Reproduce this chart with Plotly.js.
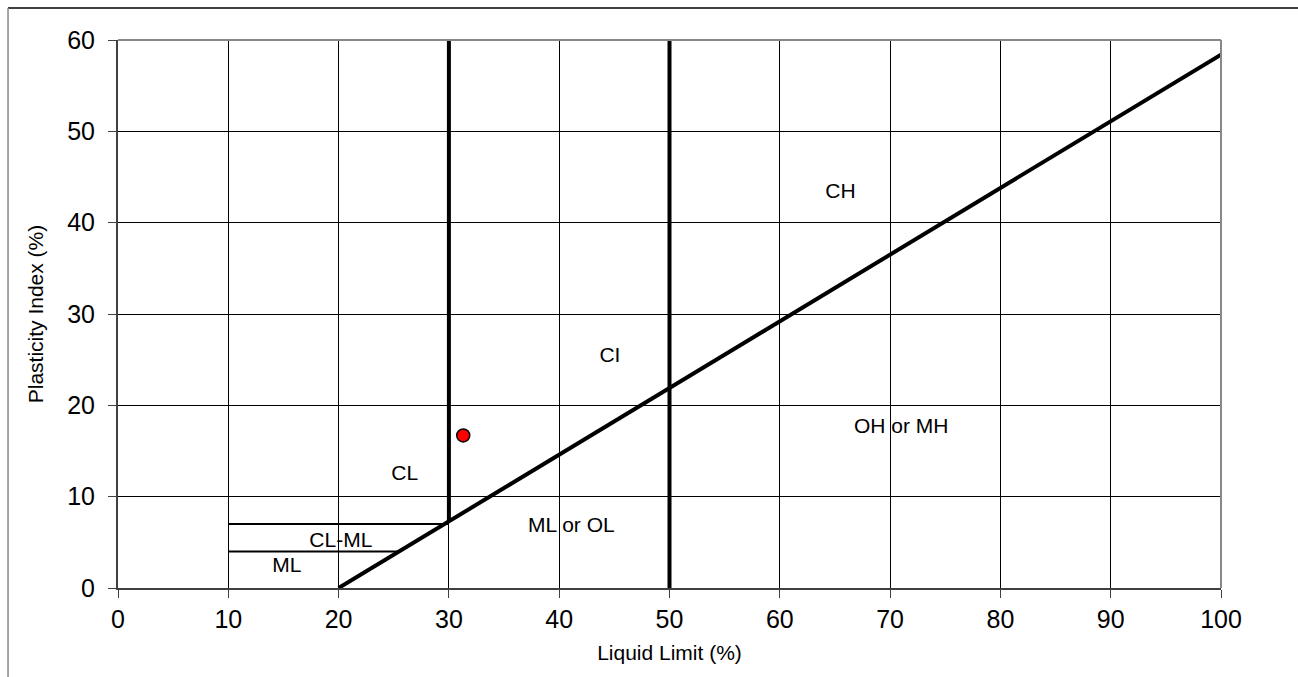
<!DOCTYPE html>
<html>
<head>
<meta charset="utf-8">
<script src="https://cdn.plot.ly/plotly-3.0.1.min.js"></script>
<style>html,body{margin:0;padding:0;background:#fff;}#chart{width:1298px;height:677px;}</style>
</head>
<body>
<div id="chart"></div>
<script>
// A-line: PI = 0.73 (LL - 20)
const aLineLL = [20, 100];
const aLinePI = [0, 58.4];
// Boundary at LL = 30 (from A-line up to top)
const ll30X = [30, 30];
const ll30Y = [7.3, 60];
// Boundary at LL = 50
const ll50X = [50, 50];
const ll50Y = [0, 60];
// CL-ML band limits
const pi7X = [10, 30];
const pi7Y = [7, 7];
const pi4X = [10, 25.5];
const pi4Y = [4, 4];
// Sample point
const sampleLL = [31.3];
const samplePI = [16.7];
// Zone labels
const zoneNames = ["CH", "CI", "OH or MH", "CL", "ML or OL", "CL-ML", "ML"];
const zoneLL = [65.5, 44.6, 71.0, 26.0, 41.1, 20.2, 15.3];
const zonePI = [43.3, 25.3, 17.5, 12.4, 6.7, 5.1, 2.3];
const xTicks = [0, 10, 20, 30, 40, 50, 60, 70, 80, 90, 100];
const yTicks = [0, 10, 20, 30, 40, 50, 60];

const FONT = "Liberation Sans, Arial, sans-serif";
const thick = {color: "#000", width: 4};
const thin = {color: "#000", width: 2};
const traces = [
  {x: pi7X, y: pi7Y, mode: "lines", line: thin, hoverinfo: "skip"},
  {x: pi4X, y: pi4Y, mode: "lines", line: thin, hoverinfo: "skip"},
  {x: ll30X, y: ll30Y, mode: "lines", line: thick, hoverinfo: "skip"},
  {x: ll50X, y: ll50Y, mode: "lines", line: thick, hoverinfo: "skip"},
  {x: aLineLL, y: aLinePI, mode: "lines", line: thick, hoverinfo: "skip"},
  {x: sampleLL, y: samplePI, mode: "markers",
   marker: {color: "#ff0000", size: 13, line: {color: "#000", width: 1.5}}},
  {x: zoneLL, y: zonePI, mode: "text", text: zoneNames,
   textfont: {family: FONT, size: 21, color: "#000"},
   textposition: "middle center", hoverinfo: "skip"}
];

const axisCommon = {
  showgrid: true, gridcolor: "#000", gridwidth: 1,
  zeroline: false, showline: true, linecolor: "#404040", linewidth: 2,
  ticks: "outside", ticklen: 8, tickcolor: "#404040", tickwidth: 1,
  tickfont: {family: FONT, size: 25, color: "#000"},
  fixedrange: true
};

const layout = {
  width: 1298, height: 677,
  margin: {l: 118, r: 77, t: 40, b: 89},
  paper_bgcolor: "#fff", plot_bgcolor: "#fff",
  showlegend: false,
  xaxis: Object.assign({}, axisCommon, {
    range: [0, 100], tickvals: xTicks, ticktext: xTicks.map(String),
    title: {text: "Liquid Limit (%)", standoff: 13,
      font: {family: FONT, size: 21, color: "#000"}}
  }),
  yaxis: Object.assign({}, axisCommon, {
    range: [0, 60], tickvals: yTicks, ticktext: yTicks.map(String),
    ticklabelstandoff: 8,
    title: {text: "Plasticity Index (%)", standoff: 18,
      font: {family: FONT, size: 21, color: "#000"}}
  }),
  shapes: [
    {type: "line", xref: "paper", yref: "paper", x0: 0, x1: 1, y0: 1, y1: 1,
     line: {color: "#888", width: 2}},
    {type: "line", xref: "paper", yref: "paper", x0: 1, x1: 1, y0: 0, y1: 1,
     line: {color: "#888", width: 2}},
    {type: "line", xref: "paper", yref: "paper", x0: -0.0997, x1: 1.1, y0: 1.0584, y1: 1.0584,
     line: {color: "#000", width: 1.5}},
    {type: "line", xref: "paper", yref: "paper", x0: -0.0997, x1: -0.0997, y0: -0.2, y1: 1.0584,
     line: {color: "#888", width: 1.5}}
  ]
};

Plotly.newPlot("chart", traces, layout, {displayModeBar: false, staticPlot: true});
</script>
</body>
</html>
